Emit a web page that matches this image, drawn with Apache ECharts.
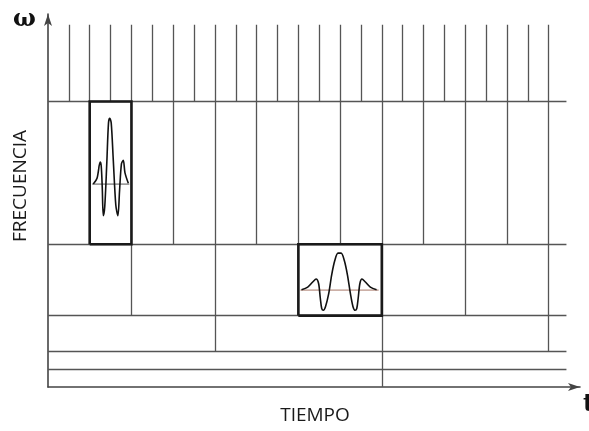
<!DOCTYPE html>
<html>
<head>
<meta charset="utf-8">
<script src="https://cdn.jsdelivr.net/npm/echarts@6/dist/echarts.min.js"></script>
<style>
html,body{margin:0;padding:0;background:#fff;}
#c{width:589px;height:431px;}
</style>
</head>
<body>
<div id="c"></div>
<script>
// ---- data (time t, frequency w) ----
const levels = [1, 2, 4, 8, 16];           // horizontal band borders (frequency)
const levelEnd = 24.85;                     // right end of horizontal borders (time)
const bandLow  = [16, 8, 4, 2, 1, 0];
const bandHigh = [20.3, 16, 8, 4, 2, 1];
const bandTimes = [
  [1,2,3,4,5,6,7,8,9,10,11,12,13,14,15,16,17,18,19,20,21,22,23,24],
  [2,4,6,8,10,12,14,16,18,20,22,24],
  [4,8,12,16,20,24],
  [8,16,24],
  [16],
  [16]
];
// highlighted tiles: [t0, t1, w0, w1]
const boxHigh = [2, 4, 8, 16];
const boxLow  = [12, 16, 4, 8];
// wavelet drawn in the high-frequency tile
const waveletHigh = [
  [2.17,11.37],[2.35,11.7],[2.50,12.6],[2.55,12.4],[2.60,11.2],[2.65,9.6],[2.72,10.1],
  [2.82,12.6],[2.90,14.8],[2.96,15.06],[3.03,14.8],[3.13,12.7],[3.25,10.2],[3.35,9.6],
  [3.43,11.0],[3.52,12.5],[3.61,12.7],[3.69,12.0],[3.85,11.42]
];
const baseHigh = [[2.12, 11.37], [3.9, 11.37]];
// wavelet drawn in the low-frequency tile
const waveletLow = [
  [12.15,5.45],[12.45,5.6],[12.7,5.9],[12.85,6.05],[12.97,5.8],[13.05,5.0],[13.12,4.4],
  [13.2,4.3],[13.3,4.5],[13.45,5.2],[13.6,6.3],[13.75,7.1],[13.9,7.5],[14.05,7.5],
  [14.2,7.1],[14.35,6.3],[14.5,5.2],[14.62,4.5],[14.72,4.3],[14.8,4.4],[14.87,5.0],
  [14.95,5.8],[15.05,6.05],[15.2,5.9],[15.45,5.6],[15.75,5.45]
];
const baseLow = [[12.1, 5.43], [15.85, 5.43]];
const xLabel = 'TIEMPO';
const yLabel = 'FRECUENCIA';
const xSym = 't';
const ySym = 'ω';

// ---- build ----
const gridSegs = [];
levels.forEach(w => gridSegs.push({coords: [[0, w], [levelEnd, w]]}));
bandTimes.forEach((ts, i) => ts.forEach(t => gridSegs.push({coords: [[t, bandLow[i]], [t, bandHigh[i]]]})));
function rect(b){ return {coords: [[b[0],b[2]],[b[1],b[2]],[b[1],b[3]],[b[0],b[3]],[b[0],b[2]]]}; }

const chart = echarts.init(document.getElementById('c'), null, {renderer: 'canvas'});
chart.setOption({
  animation: false,
  backgroundColor: '#fff',
  grid: {left: 48, right: 9, top: 14, bottom: 44, containLabel: false},
  xAxis: {
    type: 'value', min: 0, max: 25.5,
    axisLine: {show: true, symbol: ['none', 'arrow'], symbolSize: [6, 12], lineStyle: {color: '#444', width: 1.6}},
    axisTick: {show: false}, axisLabel: {show: false}, splitLine: {show: false}
  },
  yAxis: {
    type: 'value', min: 0, max: 20.9,
    axisLine: {show: true, symbol: ['none', 'arrow'], symbolSize: [6, 12], lineStyle: {color: '#444', width: 1.6}},
    axisTick: {show: false}, axisLabel: {show: false}, splitLine: {show: false}
  },
  series: [
    {type: 'lines', coordinateSystem: 'cartesian2d', polyline: false, silent: true,
     lineStyle: {color: '#555', width: 1.3, opacity: 1}, data: gridSegs},
    {type: 'line', data: baseHigh, symbol: 'none', silent: true, lineStyle: {color: '#555', width: 1}},
    {type: 'line', data: baseLow, symbol: 'none', silent: true, lineStyle: {color: '#a87868', width: 1}},
    {type: 'line', data: waveletHigh, symbol: 'none', smooth: 0.3, silent: true, lineStyle: {color: '#111', width: 1.6}},
    {type: 'line', data: waveletLow, symbol: 'none', smooth: 0.3, silent: true, lineStyle: {color: '#111', width: 1.6}},
    {type: 'lines', coordinateSystem: 'cartesian2d', polyline: true, silent: true,
     lineStyle: {color: '#1a1a1a', width: 2.6, opacity: 1}, data: [rect(boxHigh), rect(boxLow)]}
  ],
  graphic: [
    {type: 'text', left: 13, top: 8, style: {text: ySym, font: 'bold 24px "DejaVu Serif"', fill: '#111'}},
    {type: 'text', x: 21, y: 186, rotation: Math.PI / 2,
     style: {text: yLabel, font: '19px "Open Sans"', fill: '#1a1a1a', align: 'center', verticalAlign: 'middle'}},
    {type: 'text', x: 315, y: 416, style: {text: xLabel, font: '19px "Open Sans"', fill: '#1a1a1a', align: 'center', verticalAlign: 'middle'}},
    {type: 'text', x: 583, y: 405, style: {text: xSym, font: 'bold 24px "DejaVu Serif"', fill: '#111', align: 'left', verticalAlign: 'middle'}}
  ]
});
</script>
</body>
</html>
